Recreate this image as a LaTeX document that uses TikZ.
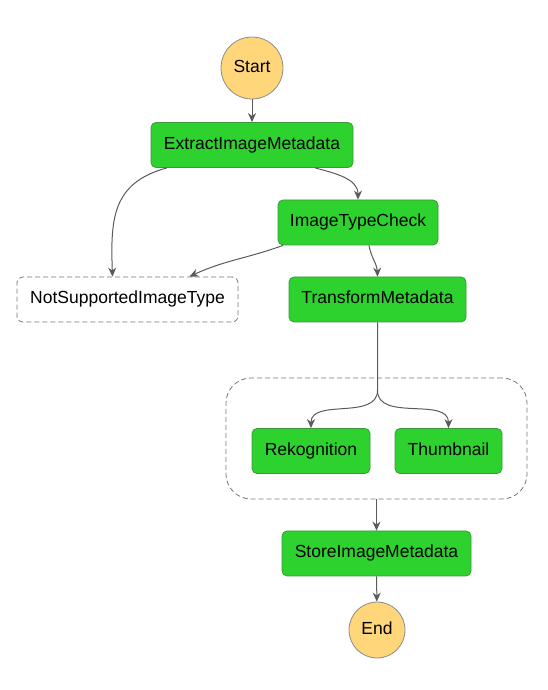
\documentclass[tikz,border=0pt]{standalone}
\usepackage{fontspec}
\setmainfont{Liberation Sans}
\usetikzlibrary{shapes,arrows,arrows.meta,positioning,calc}

\definecolor{taskgreen}{RGB}{46,210,46}
\definecolor{taskline}{RGB}{60,150,60}
\definecolor{startfill}{RGB}{255,214,122}
\definecolor{startline}{RGB}{140,140,140}
\definecolor{flowgray}{RGB}{90,90,90}
\definecolor{dashgray}{RGB}{120,120,120}

\tikzset{
  task/.style={draw=taskline, fill=taskgreen, rectangle, rounded corners=5pt, minimum height=45pt, text height=12.5pt, text depth=3.5pt, line width=0.8pt},
  terminal/.style={draw=startline, fill=startfill, circle, text height=12.5pt, text depth=3.5pt, line width=0.8pt},
  failbox/.style={draw=dashgray, dash pattern=on 5pt off 3pt, rectangle, rounded corners=6pt, minimum height=45pt, text height=12.5pt, text depth=3.5pt, line width=0.8pt},
  flow/.style={draw=flowgray, line width=1pt, -{Stealth[length=9pt, width=8pt]}}
}

\begin{document}
\begin{tikzpicture}[x=1pt, y=1pt, font=\fontsize{17.5}{20}\selectfont]
    \useasboundingbox (0,0) rectangle (548,690);
    % states
    \node[terminal, minimum size=62pt] (start) at (252,622) {Start};
    \node[task, minimum width=202pt] (extract) at (252,545) {ExtractImageMetadata};
    \node[task, minimum width=160pt] (check) at (358,467.5) {ImageTypeCheck};
    \node[failbox, minimum width=221pt] (notsupported) at (127.5,390.5) {NotSupportedImageType};
    \node[task, minimum width=177pt] (transform) at (377.5,390.5) {TransformMetadata};
    \node[draw=dashgray, dash pattern=on 5pt off 3pt, rectangle, rounded corners=25pt, minimum width=301pt, minimum height=121pt, line width=0.8pt] (parallel) at (376.5,251.5) {};
    \node[task, minimum width=118pt] (rekognition) at (311,239) {Rekognition};
    \node[task, minimum width=107pt] (thumbnail) at (448.5,239) {Thumbnail};
    \node[task, minimum width=189pt] (store) at (376.5,136.5) {StoreImageMetadata};
    \node[terminal, minimum size=56pt] (end) at (377,60) {End};
    % transitions
    \draw[flow] (start) -- (extract);
    \draw[flow] ([xshift=-85pt]extract.south) to[out=195, in=92, looseness=1.2] ([xshift=-15pt]notsupported.north);
    \draw[flow] ([xshift=63pt]extract.south) to[out=-15, in=90] (check.north);
    \draw[flow] ([xshift=-75pt]check.south) to[out=-160, in=25] ([xshift=62pt]notsupported.north);
    \draw[flow] ([xshift=11pt]check.south) to[out=-80, in=92] (transform.north);
    \coordinate (fork) at ($(transform.south)+(0,-68pt)$);
    \draw[flow] (transform.south) -- (fork) to[out=-90, in=90] (rekognition.north);
    \draw[flow] (fork) to[out=-90, in=90] (thumbnail.north);
    \draw[flow] (parallel.south) -- (store.north);
    \draw[flow] (store) -- (end);
\end{tikzpicture}
\end{document}
